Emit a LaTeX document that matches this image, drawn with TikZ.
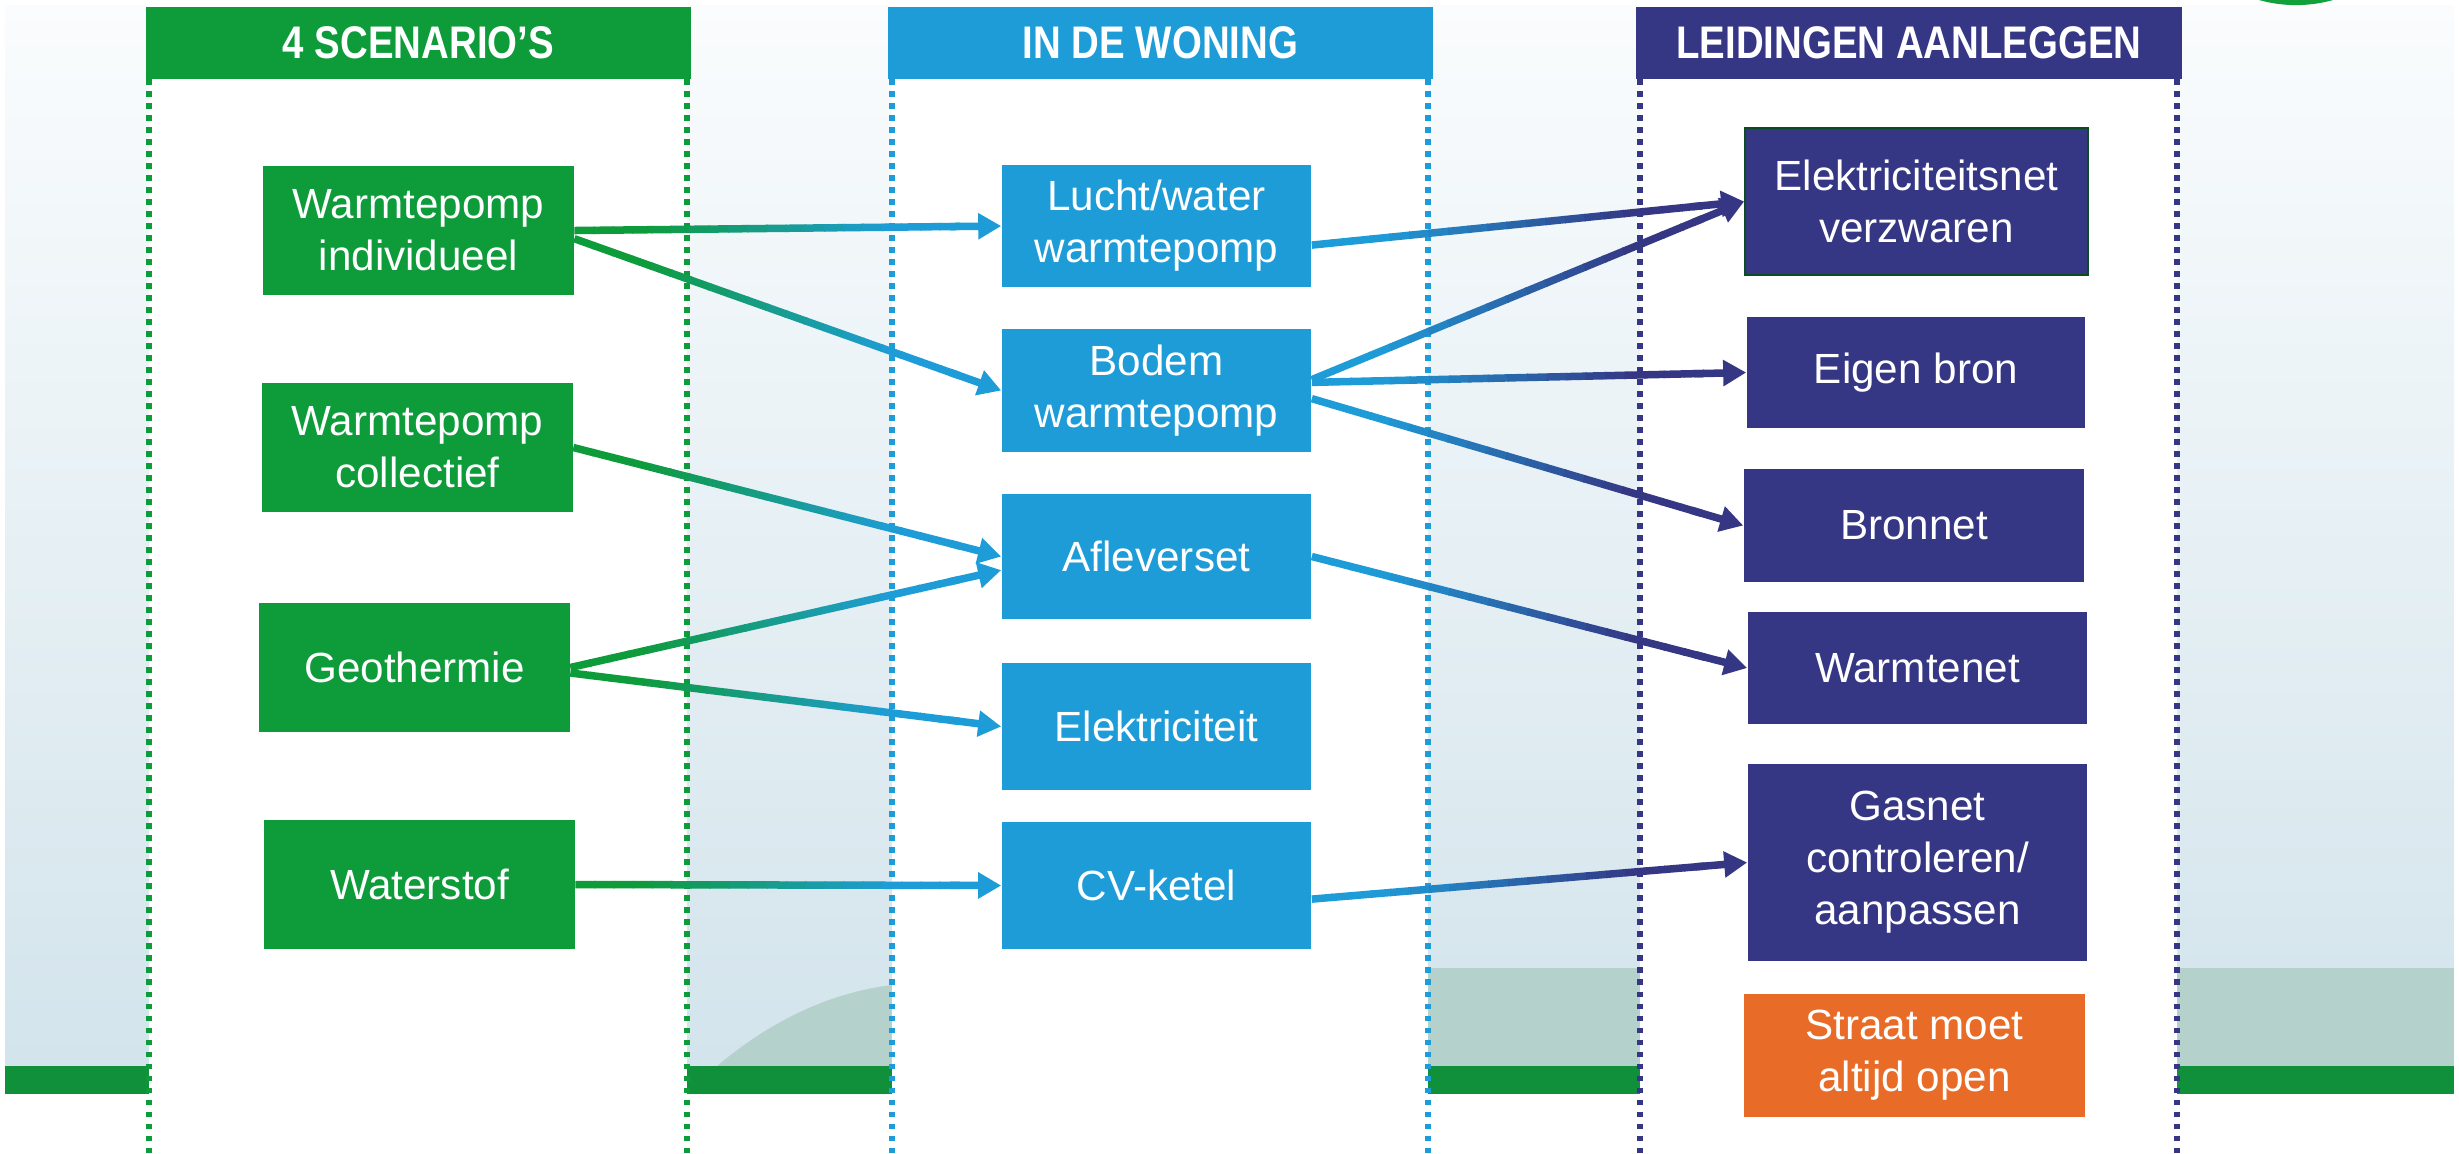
\documentclass[tikz,border=0pt]{standalone}
\usepackage{fontspec}
\setmainfont{Liberation Sans}
\newfontfamily\headfont{Liberation Sans}[FakeStretch=0.84]
\usetikzlibrary{calc,arrows.meta}
\definecolor{cgreen}{HTML}{0E9B3A}
\definecolor{cblue}{HTML}{1E9CD7}
\definecolor{cnavy}{HTML}{353684}
\definecolor{corange}{HTML}{E86C27}
\definecolor{cbar}{HTML}{10903A}
\definecolor{bgtop}{HTML}{FAFCFD}
\definecolor{bgbot}{HTML}{D3E4EC}
\definecolor{cgrey}{HTML}{B4D2CB}
\definecolor{celb}{HTML}{0B4D20}
\definecolor{ccirc}{HTML}{12A03B}
\tikzset{
  box/.style={rectangle, inner sep=0pt, text=white, align=center,
    font=\fontsize{12}{14.8}\selectfont},
  gbox/.style={box, fill=cgreen, minimum width=3.10cm, minimum height=1.28cm},
  bbox/.style={box, fill=cblue, minimum width=3.09cm, minimum height=1.25cm},
  nbox/.style={box, fill=cnavy, minimum width=3.39cm, minimum height=1.12cm},
  hdr/.style={rectangle, inner sep=0pt, text=white, minimum width=5.45cm,
    minimum height=0.72cm, font=\headfont\bfseries\fontsize{13}{15}\selectfont},
  dotline/.style={line width=0.055cm, dash pattern=on 0.055cm off 0.065cm},
  arrline/.style={line width=0.075cm},
}
\newcommand{\garrow}[4]{%
  \foreach \k in {1,...,20}{%
    \pgfmathsetmacro{\ta}{(\k-1)*0.045}%
    \pgfmathsetmacro{\tb}{\k*0.045+0.003}%
    \pgfmathsetmacro{\tm}{(\k-0.5)*0.045}%
    \pgfmathtruncatemacro{\mx}{round(100*max(0,min(1,(\tm-0.15)/0.6)))}%
    \draw[arrline, #4!\mx!#3] ($(#1)!\ta!(#2)$) -- ($(#1)!\tb!(#2)$);
  }%
  \draw[arrline, #4, -{Triangle[length=0.23cm, width=0.25cm]}]
    ($(#1)!0.88!(#2)$) -- (#2);
}
\begin{document}
\begin{tikzpicture}[x=0.01cm, y=-0.01cm]
\useasboundingbox (0,0) rectangle (2459,1153);
\clip (0,0) rectangle (2459,1153);
% background
\fill[white] (0,0) rectangle (2459,1153);
\shade[top color=bgtop, bottom color=bgbot] (5,5) rectangle (2454,1066);
\fill[cgrey] (1428,968) rectangle (1640,1066);
\fill[cgrey] (2177,968) rectangle (2454,1066);
\fill[cgrey] (687,1094) .. controls (740,1040) and (810,995) .. (892,985) -- (892,1094) -- cycle;
\fill[cbar] (5,1066) rectangle (2454,1094);
\fill[white] (149,0) rectangle (687,1153);
\fill[white] (892,0) rectangle (1428,1153);
\fill[white] (1640,0) rectangle (2177,1153);
\fill[ccirc] (2296,-131) circle [radius=1.36cm];
% dotted column borders
\draw[dotline, cgreen] (149,79) -- (149,1153);
\draw[dotline, cgreen] (687,79) -- (687,1153);
\draw[dotline, cblue] (892,79) -- (892,1153);
\draw[dotline, cblue] (1428,79) -- (1428,1153);
\draw[dotline, cnavy] (1640,79) -- (1640,1153);
\draw[dotline, cnavy] (2177,79) -- (2177,1153);
% headers
\node[hdr, fill=cgreen] (h1) at (418.5,43) {4 SCENARIO’S};
\node[hdr, fill=cblue] (h2) at (1160.5,43) {IN DE WONING};
\node[hdr, fill=cnavy] (h3) at (1909,43) {LEIDINGEN AANLEGGEN};
% column 1
\node[gbox] (wi) at (418.5,230.5) {Warmtepomp\\individueel};
\node[gbox] (wc) at (417.5,447.5) {Warmtepomp\\collectief};
\node[gbox] (geo) at (414.5,667.5) {Geothermie};
\node[gbox] (ws) at (419.5,884.5) {Waterstof};
% column 2
\node[bbox, minimum height=1.22cm] (lw) at (1156.5,226) {Lucht/water\\warmtepomp};
\node[bbox, minimum height=1.23cm] (bo) at (1156.5,390.5) {Bodem\\warmtepomp};
\node[bbox] (af) at (1156.5,556.5) {Afleverset};
\node[bbox, minimum height=1.27cm] (el) at (1156.5,726.5) {Elektriciteit};
\node[bbox, minimum height=1.27cm] (cv) at (1156.5,885.5) {CV-ketel};
% column 3
\node[nbox, draw=celb, line width=0.015cm, minimum width=3.43cm, minimum height=1.47cm] (en) at (1916.5,201.5) {Elektriciteitsnet\\verzwaren};
\node[nbox, minimum width=3.38cm, minimum height=1.11cm] (eb) at (1916,372.5) {Eigen bron};
\node[nbox, minimum width=3.40cm, minimum height=1.13cm] (bn) at (1914,525.5) {Bronnet};
\node[nbox] (wn) at (1917.5,668) {Warmtenet};
\node[nbox, minimum height=1.97cm] (gn) at (1917.5,862.5) {Gasnet\\controleren/\\aanpassen};
\node[box, fill=corange, minimum width=3.41cm, minimum height=1.23cm] (so) at (1914.5,1055.5) {Straat moet\\altijd open};
% arrows
\garrow{wi.east}{lw.west}{cgreen}{cblue}
\garrow{wi.357}{bo.west}{cgreen}{cblue}
\garrow{wc.east}{af.west}{cgreen}{cblue}
\garrow{geo.east}{af.185.6}{cgreen}{cblue}
\garrow{geo.358}{el.west}{cgreen}{cblue}
\garrow{ws.east}{cv.west}{cgreen}{cblue}
\garrow{lw.353.7}{en.west}{cblue}{cnavy}
\garrow{bo.4.4}{en.west}{cblue}{cnavy}
\garrow{bo.3.3}{eb.west}{cblue}{cnavy}
\garrow{bo.357.4}{bn.west}{cblue}{cnavy}
\garrow{af.east}{wn.west}{cblue}{cnavy}
\garrow{cv.355.2}{gn.west}{cblue}{cnavy}
\end{tikzpicture}
\end{document}
